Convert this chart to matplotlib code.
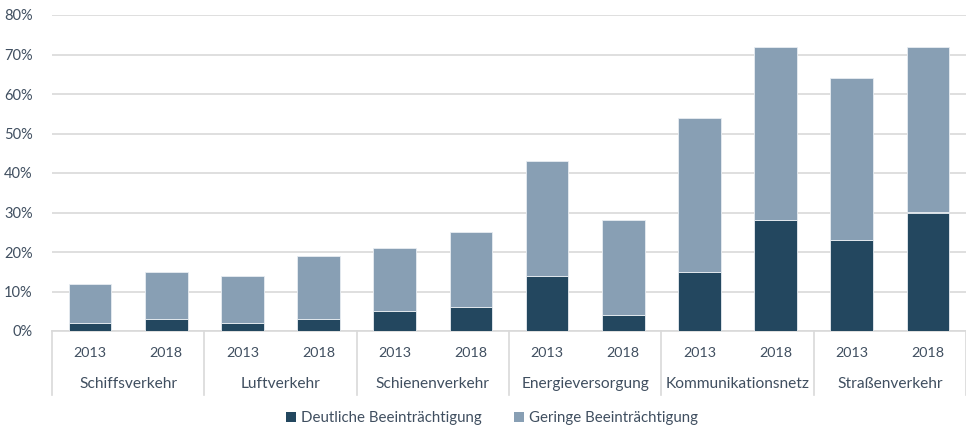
import matplotlib
matplotlib.use("Agg")
import matplotlib.pyplot as plt
from matplotlib.patches import Patch
import numpy as np

plt.rcParams['font.family'] = ['Lato', 'DejaVu Sans']

groups = ["Schiffsverkehr", "Luftverkehr", "Schienenverkehr", "Energieversorgung",
          "Kommunikationsnetz", "Straßenverkehr"]
years = ["2013", "2018"]
deutlich = [2, 3, 2, 3, 5, 6, 14, 4, 15, 28, 23, 30]
gesamt = [12, 15, 14, 19, 21, 25, 43, 28, 54, 72, 64, 72]
gering = [g - d for g, d in zip(gesamt, deutlich)]
yticks = [0, 10, 20, 30, 40, 50, 60, 70, 80]

dark = "#23475F"
light = "#889FB4"
txt = "#404F60"
grid = "#D9D9D9"

fig = plt.figure(figsize=(9.66, 4.28), dpi=100)
ax = fig.add_axes([52/966, 1-331/428, 914/966, (331-15)/428])

n = len(deutlich)
x = np.arange(n)
ax.bar(x, deutlich, width=0.56, color=dark, edgecolor="#E8EDF2", linewidth=0.6, zorder=3)
ax.bar(x, gering, bottom=deutlich, width=0.56, color=light, edgecolor="#E8EDF2", linewidth=0.6, zorder=3)

ax.set_xlim(-0.5, n - 0.5)
ax.set_ylim(0, 80)
ax.set_yticks(yticks)
ax.set_yticklabels([f"{v}%" for v in yticks], fontsize=10.5, color=txt)
ax.yaxis.grid(True, color=grid, linewidth=1.2, zorder=0)
ax.tick_params(axis='y', length=0, pad=14)
ax.set_xticks([])
for s in ["top", "right", "left"]:
    ax.spines[s].set_visible(False)
ax.spines["bottom"].set_color(grid)
ax.spines["bottom"].set_linewidth(1.2)

trans = ax.get_xaxis_transform()
for i in range(n):
    ax.text(x[i], -22/316, years[i % 2], transform=trans, ha="center", va="center",
            fontsize=10.3, color=txt)
for gi, g in enumerate(groups):
    ax.text(2*gi + 0.5, -53/316, g, transform=trans, ha="center", va="center",
            fontsize=11.2, color=txt)
for b in range(len(groups) + 1):
    xb = 2*b - 0.5
    ax.plot([xb, xb], [0, -64/316], transform=trans, color=grid, linewidth=1.2,
            clip_on=False, zorder=1)

handles = [Patch(facecolor=dark, label="Deutliche Beeinträchtigung"),
           Patch(facecolor=light, label="Geringe Beeinträchtigung")]
fig.legend(handles=handles, loc="center", bbox_to_anchor=(492/966, 1-418/428), ncol=2,
           frameon=False, fontsize=10.8, labelcolor=txt, handlelength=0.65, handleheight=0.65,
           handletextpad=0.3, columnspacing=2.2)

fig.savefig("out.png", dpi=100)
